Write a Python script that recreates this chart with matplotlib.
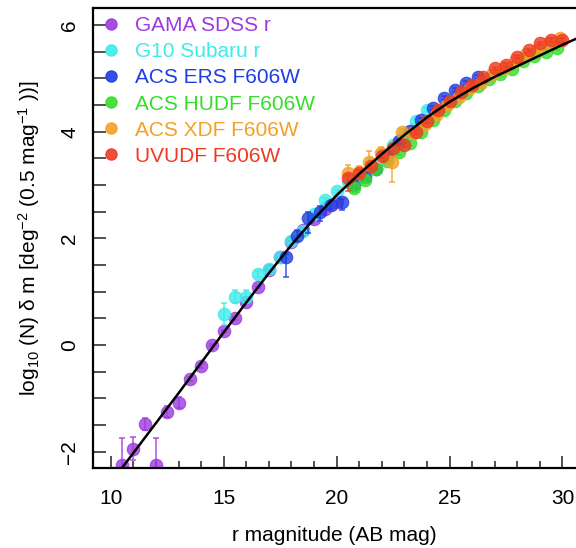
import matplotlib
matplotlib.use("Agg")
import matplotlib.pyplot as plt
from matplotlib.lines import Line2D
from matplotlib.ticker import MultipleLocator

plt.rcParams["font.family"] = ["Liberation Sans", "DejaVu Sans"]
plt.rcParams["mathtext.default"] = "regular"

# --- number counts per survey (mag, log10 N, lower err, upper err) ---
gama_x = [10.5, 11.0, 11.5, 12.0, 12.5, 13.0, 13.5, 14.0, 14.5, 15.0, 15.5, 16.0, 16.5, 17.0, 17.5, 18.0, 18.5, 19.0, 19.5, 20.0]
gama_y = [-2.25, -1.94, -1.48, -2.25, -1.25, -1.08, -0.63, -0.39, 0.01, 0.26, 0.50, 0.81, 1.09, 1.41, 1.66, 1.94, 2.16, 2.36, 2.55, 2.69]
gama_lo = [0.5, 0.22, 0.12, 0.5, 0.1, 0.1, 0.04, 0.03, 0.02, 0.02, 0.02, 0.02, 0.02, 0.02, 0.02, 0.02, 0.02, 0.02, 0.02, 0.02]
gama_hi = [0.5, 0.22, 0.12, 0.5, 0.1, 0.1, 0.04, 0.03, 0.02, 0.02, 0.02, 0.02, 0.02, 0.02, 0.02, 0.02, 0.02, 0.02, 0.02, 0.02]

g10_x = [15.0, 15.5, 16.0, 16.5, 17.0, 17.5, 18.0, 18.5, 19.0, 19.5, 20.0, 20.5, 21.0, 21.5, 22.0, 22.5, 23.0, 23.5, 24.0]
g10_y = [0.59, 0.91, 0.91, 1.33, 1.42, 1.66, 1.95, 2.13, 2.45, 2.72, 2.88, 3.05, 3.22, 3.40, 3.58, 3.75, 3.95, 4.20, 4.41]
g10_lo = [0.22, 0.12, 0.12, 0.05, 0.04, 0.03, 0.03, 0.03, 0.03, 0.03, 0.03, 0.03, 0.03, 0.03, 0.03, 0.03, 0.03, 0.03, 0.03]
g10_hi = [0.2, 0.12, 0.12, 0.05, 0.04, 0.03, 0.03, 0.03, 0.03, 0.03, 0.03, 0.03, 0.03, 0.03, 0.03, 0.03, 0.03, 0.03, 0.03]

ers_x = [17.75, 18.25, 18.75, 19.25, 19.75, 20.25, 20.75, 21.25, 21.75, 22.25, 22.75, 23.25, 23.75, 24.25, 24.75, 25.25, 25.75, 26.25]
ers_y = [1.66, 2.05, 2.38, 2.50, 2.63, 2.69, 3.00, 3.16, 3.31, 3.55, 3.82, 4.02, 4.22, 4.45, 4.63, 4.78, 4.91, 5.03]
ers_lo = [0.38, 0.1, 0.28, 0.17, 0.08, 0.16, 0.06, 0.06, 0.06, 0.05, 0.05, 0.04, 0.04, 0.04, 0.04, 0.04, 0.04, 0.04]
ers_hi = [0.05, 0.1, 0.12, 0.1, 0.08, 0.05, 0.06, 0.06, 0.06, 0.05, 0.05, 0.04, 0.04, 0.04, 0.04, 0.04, 0.04, 0.04]

hudf_x = [20.75, 21.25, 21.75, 22.25, 22.75, 23.25, 23.75, 24.25, 24.75, 25.25, 25.75, 26.25, 26.75, 27.25, 27.75, 28.25, 28.75, 29.25, 29.75]
hudf_y = [2.95, 3.10, 3.30, 3.45, 3.62, 3.78, 4.00, 4.22, 4.40, 4.57, 4.72, 4.85, 4.98, 5.08, 5.18, 5.32, 5.42, 5.50, 5.57]
hudf_lo = [0.08, 0.07, 0.06, 0.05, 0.05, 0.04, 0.04, 0.03, 0.03, 0.03, 0.03, 0.03, 0.03, 0.03, 0.03, 0.03, 0.03, 0.03, 0.03]
hudf_hi = hudf_lo

xdf_x = [20.5, 21.0, 21.45, 21.95, 22.45, 22.9, 23.4, 23.9, 24.4, 24.9, 25.4, 25.9, 26.4, 26.9, 27.4, 27.9, 28.4, 28.9, 29.4, 29.9]
xdf_y = [3.22, 3.25, 3.44, 3.60, 3.44, 4.00, 3.98, 4.15, 4.32, 4.50, 4.66, 4.82, 4.91, 5.08, 5.20, 5.33, 5.45, 5.56, 5.66, 5.75]
xdf_lo = [0.05, 0.05, 0.05, 0.05, 0.38, 0.05, 0.04, 0.04, 0.03, 0.03, 0.03, 0.03, 0.03, 0.03, 0.03, 0.03, 0.03, 0.03, 0.03, 0.03]
xdf_hi = [0.15, 0.1, 0.2, 0.12, 0.05, 0.05, 0.04, 0.04, 0.03, 0.03, 0.03, 0.03, 0.03, 0.03, 0.03, 0.03, 0.03, 0.03, 0.03, 0.03]

uvudf_x = [20.5, 21.0, 21.5, 22.0, 22.5, 23.0, 23.5, 24.0, 24.5, 25.0, 25.5, 26.0, 26.5, 27.0, 27.5, 28.0, 28.5, 29.0, 29.5, 30.0]
uvudf_y = [3.13, 3.22, 3.35, 3.55, 3.69, 3.75, 4.00, 4.20, 4.40, 4.57, 4.75, 4.88, 5.02, 5.19, 5.25, 5.41, 5.53, 5.66, 5.72, 5.72]
uvudf_lo = [0.25, 0.06, 0.05, 0.05, 0.05, 0.04, 0.04, 0.03, 0.03, 0.03, 0.03, 0.03, 0.03, 0.03, 0.03, 0.03, 0.03, 0.03, 0.03, 0.03]
uvudf_hi = [0.05, 0.06, 0.05, 0.05, 0.05, 0.04, 0.04, 0.03, 0.03, 0.03, 0.03, 0.03, 0.03, 0.03, 0.03, 0.03, 0.03, 0.03, 0.03, 0.03]

# fitted model curve
curve_x = [10.3, 11, 12, 13, 14, 15, 16, 17, 18, 19, 20, 21, 22, 23, 24, 25, 26, 27, 28, 29, 30, 30.7]
curve_y = [-2.41, -2.02, -1.46, -0.90, -0.33, 0.24, 0.80, 1.35, 1.88, 2.37, 2.81, 3.21, 3.58, 3.94, 4.27,
           4.56, 4.81, 5.03, 5.23, 5.43, 5.63, 5.76]

series = [
    ("GAMA SDSS r", "#9d3be0", gama_x, gama_y, gama_lo, gama_hi),
    ("G10 Subaru r", "#3eeaea", g10_x, g10_y, g10_lo, g10_hi),
    ("ACS ERS F606W", "#1f3ee0", ers_x, ers_y, ers_lo, ers_hi),
    ("ACS HUDF F606W", "#35dd2a", hudf_x, hudf_y, hudf_lo, hudf_hi),
    ("ACS XDF F606W", "#f5a025", xdf_x, xdf_y, xdf_lo, xdf_hi),
    ("UVUDF F606W", "#ee3b22", uvudf_x, uvudf_y, uvudf_lo, uvudf_hi),
]

fig = plt.figure(figsize=(5.76, 5.48), dpi=100)
ax = fig.add_axes([0.1615, 0.1454, 0.8385, 0.84])

for name, col, xs, ys, lo, hi in series:
    ax.errorbar(xs, ys, yerr=[lo, hi], fmt="none", ecolor=col, elinewidth=1.2,
                capsize=2, capthick=1.2, alpha=0.8)
    ax.plot(xs, ys, "o", color=col, ms=9, alpha=0.8, mec=col, mew=0.8)

ax.plot(curve_x, curve_y, color="black", lw=1.8)

ax.set_xlim(9.21, 30.6)
ax.set_ylim(-2.31, 6.32)
ax.spines["right"].set_visible(False)
for s in ["left", "bottom", "top"]:
    ax.spines[s].set_linewidth(1.6)

ax.xaxis.set_major_locator(MultipleLocator(5))
ax.xaxis.set_minor_locator(MultipleLocator(1))
ax.yaxis.set_major_locator(MultipleLocator(2))
ax.yaxis.set_minor_locator(MultipleLocator(0.5))
ax.tick_params(which="both", direction="in", width=1.2, labelsize=15, color="#333333")
ax.tick_params(axis="x", which="major", length=9, pad=15)
ax.tick_params(axis="x", which="minor", length=5)
ax.tick_params(axis="y", which="both", length=9, pad=10)
ax.tick_params(top=False, right=False, which="both")
for lab in ax.get_yticklabels():
    lab.set_rotation(90)
    lab.set_va("center")

ax.set_xlabel("r magnitude (AB mag)", fontsize=15, labelpad=13)
ax.set_ylabel(r"log$_{10}$ (N) δ m [deg$^{-2}$ (0.5 mag$^{-1}$ ))]", fontsize=15, labelpad=13)

handles = [Line2D([], [], marker="o", ls="none", color=c, ms=8, alpha=0.9) for _, c, *_ in series]
ax.legend(handles, [s[0] for s in series], loc="upper left", bbox_to_anchor=(0.015, 0.982),
          frameon=False, fontsize=15, handlelength=1.0, handletextpad=0.65,
          labelspacing=0.34, borderaxespad=0, borderpad=0,
          labelcolor=[s[1] for s in series])

fig.savefig("out.png", dpi=100)
